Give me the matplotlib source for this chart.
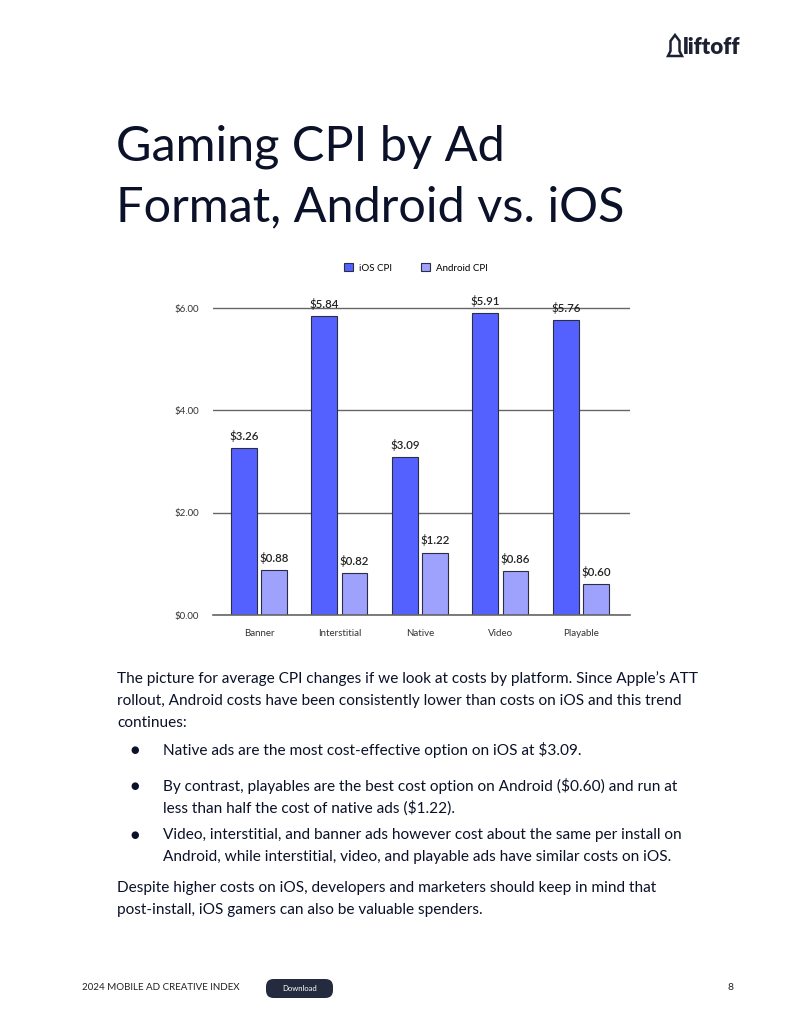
import matplotlib
matplotlib.use("Agg")
import matplotlib.pyplot as plt
from matplotlib.patches import FancyBboxPatch, Polygon

categories = ["Banner", "Interstitial", "Native", "Video", "Playable"]
ios_cpi = [3.26, 5.84, 3.09, 5.91, 5.76]
android_cpi = [0.88, 0.82, 1.22, 0.86, 0.60]
yticks = [0, 2, 4, 6]
ytick_labels = ["$0.00", "$2.00", "$4.00", "$6.00"]

IOS_COLOR = "#5561ff"
AND_COLOR = "#9fa2fc"
EDGE = "#2b2d42"
TEXT = "#0b1128"

W, H = 800, 1035
fig = plt.figure(figsize=(W / 100, H / 100), dpi=100)
fig.patch.set_facecolor("white")
plt.rcParams["font.family"] = ["Lato", "DejaVu Sans"]


def P(x, y):
    return x / W, 1 - y / H


# Title
fig.text(*P(116, 147), "Gaming CPI by Ad", fontsize=35, color=TEXT, va="center", ha="left")
fig.text(*P(116, 207), "Format, Android vs. iOS", fontsize=35, color=TEXT, va="center", ha="left")

# Logo
fig.text(*P(683, 47), "liftoff", fontsize=16, fontweight="heavy", color="#1d2233", va="center", ha="left")
rocket = Polygon([P(675, 35), P(679.5, 41), P(679.5, 51), P(682, 56), P(668, 56), P(670.5, 51), P(670.5, 41)],
                 closed=True, fill=False, edgecolor="#1d2233", linewidth=1.8, transform=fig.transFigure)
fig.add_artist(rocket)

# Chart axes
left, right = 213, 630
y0, ytop = 615, 298
ax = fig.add_axes([left / W, (H - y0) / H, (right - left) / W, (y0 - ytop) / H])
ax.set_ylim(0, 6.2)
ax.set_xlim(-0.57, 4.61)
x = range(len(categories))
bw = 0.32
off = 0.187
ax.bar([i - off for i in x], ios_cpi, width=bw, color=IOS_COLOR, edgecolor=EDGE, linewidth=0.8, zorder=3,
       label="iOS CPI")
ax.bar([i + off for i in x], android_cpi, width=bw, color=AND_COLOR, edgecolor=EDGE, linewidth=0.8, zorder=3,
       label="Android CPI")
for i in x:
    ax.text(i - off, ios_cpi[i] + 0.12, f"${ios_cpi[i]:.2f}", ha="center", va="bottom", fontsize=8.3,
            color="#222", fontweight="semibold")
    ax.text(i + off, android_cpi[i] + 0.12, f"${android_cpi[i]:.2f}", ha="center", va="bottom", fontsize=8.3,
            color="#222", fontweight="semibold")
ax.set_yticks(yticks)
ax.set_yticklabels(ytick_labels)
ax.set_xticks(list(x))
ax.set_xticklabels(categories)
ax.tick_params(axis="both", length=0, labelsize=7, colors="#333")
ax.tick_params(axis="y", pad=10)
ax.tick_params(axis="x", pad=10)
ax.grid(axis="y", color="#666", linewidth=1, zorder=0)
ax.axhline(0, color="#666", linewidth=1.2, zorder=4, clip_on=False)
for s in ax.spines.values():
    s.set_visible(False)

leg = fig.legend(loc="center", bbox_to_anchor=P(416, 268), ncol=2, frameon=False, fontsize=7,
                 handlelength=0.9, handleheight=0.9, columnspacing=3, handletextpad=0.6)

# Body text
body = [
    (117, 679, "The picture for average CPI changes if we look at costs by platform. Since Apple\u2019s ATT"),
    (117, 701, "rollout, Android costs have been consistently lower than costs on iOS and this trend"),
    (117, 723, "continues:"),
    (163, 750, "Native ads are the most cost-effective option on iOS at $3.09."),
    (163, 786, "By contrast, playables are the best cost option on Android ($0.60) and run at"),
    (163, 808, "less than half the cost of native ads ($1.22)."),
    (163, 835, "Video, interstitial, and banner ads however cost about the same per install on"),
    (163, 857, "Android, while interstitial, video, and playable ads have similar costs on iOS."),
    (117, 888, "Despite higher costs on iOS, developers and marketers should keep in mind that"),
    (117, 910, "post-install, iOS gamers can also be valuable spenders."),
]
for bx, by, t in body:
    fig.text(*P(bx, by), t, fontsize=11.1, color=TEXT, va="center", ha="left")
for by in (750, 786, 835):
    fig.text(*P(135, by), "\u25cf", fontsize=7, color=TEXT, va="center", ha="center", family="DejaVu Sans")

# Footer
fig.text(*P(82, 988), "2024 MOBILE AD CREATIVE INDEX", fontsize=7, color="#222", va="center", ha="left")
pill = FancyBboxPatch(P(266, 998), (333 - 266) / W, 19 / H,
                      boxstyle="round,pad=0,rounding_size=0.0095", transform=fig.transFigure,
                      facecolor="#252b3f", edgecolor="none", mutation_aspect=W / H)
fig.add_artist(pill)
fig.text(*P(299.5, 988.5), "Download", fontsize=5.5, color="white", va="center", ha="center")
fig.text(*P(731, 988), "8", fontsize=7.5, color="#222", va="center", ha="center")

fig.savefig("out.png", dpi=100, facecolor="white")
